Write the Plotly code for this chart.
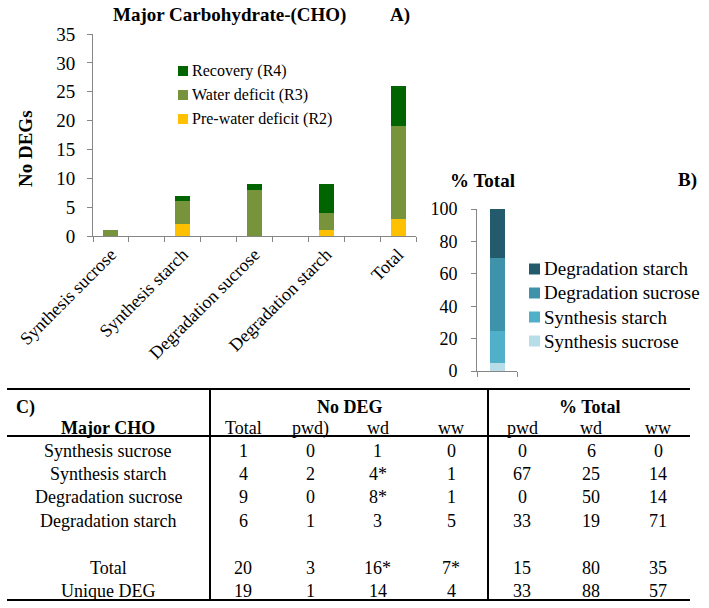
import plotly.graph_objects as go

# ---------------- data ----------------
categories = ["Synthesis sucrose", "Synthesis starch", "Degradation sucrose",
              "Degradation starch", "Total"]
pre_wd = [0, 2, 0, 1, 3]        # Pre-water deficit (R2)
water_def = [1, 4, 8, 3, 16]    # Water deficit (R3)
recovery = [0, 1, 1, 5, 7]      # Recovery (R4)

pct_categories = ["Synthesis sucrose", "Synthesis starch",
                  "Degradation sucrose", "Degradation starch"]
pct_values = [5, 20, 45, 30]

tbl_header_top = ["No DEG", "% Total"]
tbl_columns = ["Total", "pwd)", "wd", "ww", "pwd", "wd", "ww"]
tbl_rows = ["Synthesis sucrose", "Synthesis starch", "Degradation sucrose",
            "Degradation starch", "Total", "Unique DEG"]
tbl_total = ["1", "4", "9", "6", "20", "19"]
tbl_pwd = ["0", "2", "0", "1", "3", "1"]
tbl_wd = ["1", "4*", "8*", "3", "16*", "14"]
tbl_ww = ["0", "1", "1", "5", "7*", "4"]
tbl_pct_pwd = ["0", "67", "0", "33", "15", "33"]
tbl_pct_wd = ["6", "25", "50", "19", "80", "88"]
tbl_pct_ww = ["0", "14", "14", "71", "35", "57"]

# ---------------- style ----------------
W, H = 709, 608
FONT = "'Liberation Serif', 'Times New Roman', 'DejaVu Serif', serif"
AX = "#868686"
col_pre, col_wd, col_rec = "#FFC000", "#77933C", "#006400"
pct_colors = ["#B7DEE8", "#50B0C9", "#3E93AB", "#235B6C"]


def px(x):
    return x / W


def py(y):
    return 1 - y / H


fig = go.Figure()

xs = list(range(len(categories)))
for name, vals, c in [("Pre-water deficit (R2)", pre_wd, col_pre),
                      ("Water deficit (R3)", water_def, col_wd),
                      ("Recovery (R4)", recovery, col_rec)]:
    fig.add_trace(go.Bar(x=xs, y=vals, name=name, marker=dict(color=c, line=dict(width=0)),
                         width=0.21, xaxis="x", yaxis="y", showlegend=False))

for cat, v, c in zip(pct_categories, pct_values, pct_colors):
    fig.add_trace(go.Bar(x=[0], y=[v], name=cat, marker=dict(color=c, line=dict(width=0)),
                         width=0.375, xaxis="x2", yaxis="y2", showlegend=False))

annotations = []
shapes = []


def text(x, y, s, size=18, bold=False, xanchor="center", angle=0):
    annotations.append(dict(
        x=px(x), y=py(y), xref="paper", yref="paper", showarrow=False,
        text=("<b>%s</b>" % s) if bold else s, textangle=angle,
        xanchor=xanchor, yanchor="middle",
        font=dict(family=FONT, size=size, color="black")))


# titles
text(229, 15, "Major Carbohydrate-(CHO)", 19, True)
text(400, 15, "A)", 19, True)
text(26, 149, "No DEGs", 19, True, angle=-90)
text(482, 180, "% Total", 19, True)
text(687, 180, "B)", 19, True)

# legend A (manual)
leg_a = [("Recovery (R4)", col_rec, 71), ("Water deficit (R3)", col_wd, 95),
         ("Pre-water deficit (R2)", col_pre, 119)]
for lab, c, yy in leg_a:
    shapes.append(dict(type="rect", xref="paper", yref="paper",
                       x0=px(178), x1=px(188), y0=py(yy + 5), y1=py(yy - 5),
                       fillcolor=c, line=dict(width=0)))
    text(190, yy, lab, 16, xanchor="left")

# legend B (manual)
leg_b_y = [341, 317, 293, 269]
for lab, c, yy in zip(pct_categories, pct_colors, leg_b_y):
    shapes.append(dict(type="rect", xref="paper", yref="paper",
                       x0=px(529), x1=px(540), y0=py(yy + 5.5), y1=py(yy - 5.5),
                       fillcolor=c, line=dict(width=0)))
    text(542, yy, lab, 19, xanchor="left")

# table C
for y in [389, 436, 600]:
    shapes.append(dict(type="line", xref="paper", yref="paper",
                       x0=px(7), x1=px(690), y0=py(y), y1=py(y),
                       line=dict(color="black", width=2)))
for x in [210, 488]:
    shapes.append(dict(type="line", xref="paper", yref="paper",
                       x0=px(x), x1=px(x), y0=py(389), y1=py(600),
                       line=dict(color="black", width=2)))

text(14, 407, "C)", 18, True, xanchor="left")
text(350, 407, tbl_header_top[0], 18, True)
text(590, 407, tbl_header_top[1], 18, True)
text(108, 428, "Major CHO", 18, True)
col_x = [243, 310, 378, 451, 522, 591, 658]
for cx, lab in zip(col_x, tbl_columns):
    text(cx, 428, lab, 18)
row_y = [451, 474, 497, 521, 568, 591]
cols = [tbl_total, tbl_pwd, tbl_wd, tbl_ww, tbl_pct_pwd, tbl_pct_wd, tbl_pct_ww]
for i, ry in enumerate(row_y):
    text(108, ry, tbl_rows[i], 18)
    for cx, colvals in zip(col_x, cols):
        text(cx, ry, colvals[i], 18)

fig.update_layout(
    width=W, height=H, autosize=False,
    margin=dict(l=0, r=0, t=0, b=0, pad=0, autoexpand=False),
    paper_bgcolor="white", plot_bgcolor="white",
    barmode="stack", bargap=0,
    showlegend=False,
    font=dict(family=FONT, size=18, color="black"),
    annotations=annotations, shapes=shapes,
    xaxis=dict(domain=[px(93), px(416)], range=[-0.25, 4.25], automargin=False,
               tickmode="array", tickvals=xs, ticktext=categories,
               tickangle=-45, ticks="", showgrid=False, zeroline=False,
               showline=True, linecolor=AX, linewidth=1,
               tickfont=dict(family=FONT, size=18, color="black"),
               minor=dict(ticks="outside", tick0=-0.25, dtick=0.5, ticklen=5,
                          tickcolor=AX, tickwidth=1, showgrid=False),
               anchor="y", fixedrange=True),
    yaxis=dict(domain=[py(236), py(34)], range=[0, 35], dtick=5, automargin=False,
               ticks="outside", ticklen=5, tickcolor=AX, tickwidth=1,
               showline=True, linecolor=AX, linewidth=1,
               showgrid=False, zeroline=False, ticklabelstandoff=8,
               tickfont=dict(family=FONT, size=19, color="black"),
               anchor="x"),
    xaxis2=dict(domain=[px(477), px(517)], range=[-0.5, 0.5], automargin=False,
                tickmode="array", tickvals=[-0.5, 0.5], ticktext=["", ""],
                ticks="outside", ticklen=5, tickcolor=AX, tickwidth=1,
                showline=True, linecolor=AX, linewidth=1,
                showgrid=False, zeroline=False, anchor="y2"),
    yaxis2=dict(domain=[py(371), py(209)], range=[0, 100], dtick=20, automargin=False,
                ticks="outside", ticklen=5, tickcolor=AX, tickwidth=1,
                showline=True, linecolor=AX, linewidth=1,
                showgrid=False, zeroline=False, ticklabelstandoff=10,
                tickfont=dict(family=FONT, size=18, color="black"),
                anchor="x2"),
)

fig.write_html("out.html")
